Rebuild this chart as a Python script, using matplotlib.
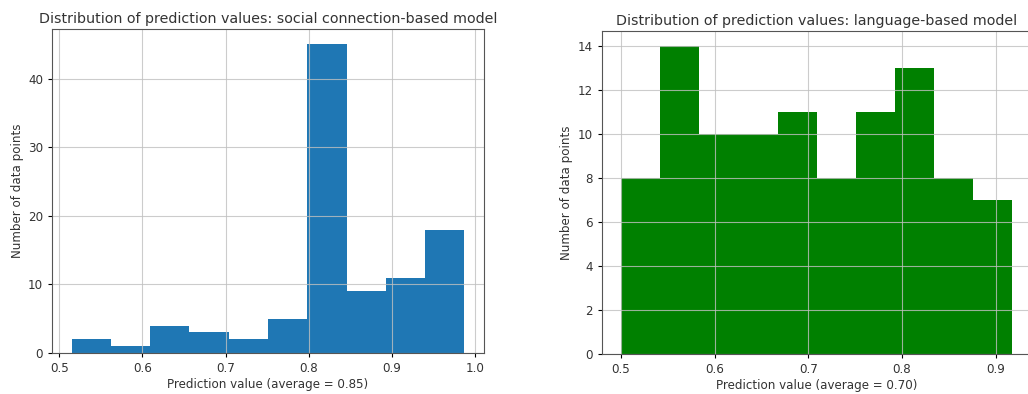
import numpy as np
import matplotlib
matplotlib.use("Agg")
import matplotlib.pyplot as plt

# bin counts (10 bins each, 100 points)
SOCIAL_COUNTS = [2, 1, 4, 3, 2, 5, 45, 9, 11, 18]
SOCIAL_MIN, SOCIAL_MAX = 0.515, 0.987
LANG_COUNTS = [8, 14, 10, 10, 11, 8, 11, 13, 8, 7]
LANG_MIN, LANG_MAX = 0.500, 0.918

SOCIAL_TITLE = "Distribution of prediction values: social connection-based model"
LANG_TITLE = "Distribution of prediction values: language-based model"
SOCIAL_XLABEL = "Prediction value (average = 0.85)"
LANG_XLABEL = "Prediction value (average = 0.70)"
YLABEL = "Number of data points"

W, H = 1028, 394
fig = plt.figure(figsize=(W / 100, H / 100), dpi=100)

ax1 = fig.add_axes([52 / W, 41 / H, 432 / W, 324 / H])
ax2 = fig.add_axes([601.5 / W, 40 / H, 430.5 / W, 323 / H])


def draw(ax, counts, lo, hi, color, title, xlabel):
    edges = np.linspace(lo, hi, len(counts) + 1)
    ax.hist(edges[:-1], bins=edges, weights=counts, color=color)
    ax.grid(True, color="#c0c0c0", linewidth=0.8, alpha=0.8)
    ax.set_title(title, fontsize=10.3, color="#333333", pad=4)
    ax.set_xlabel(xlabel, fontsize=8.6, color="#333333", labelpad=2)
    ax.set_ylabel(YLABEL, fontsize=8.6, color="#333333", labelpad=3)
    ax.tick_params(labelsize=8.6, labelcolor="#333333", length=3)
    for s in ax.spines.values():
        s.set_color("#555555")


draw(ax1, SOCIAL_COUNTS, SOCIAL_MIN, SOCIAL_MAX, "#1f77b4", SOCIAL_TITLE, SOCIAL_XLABEL)
draw(ax2, LANG_COUNTS, LANG_MIN, LANG_MAX, "green", LANG_TITLE, LANG_XLABEL)
ax2.set_yticks(np.arange(0, 15, 2))

fig.savefig("out.png", dpi=100)
